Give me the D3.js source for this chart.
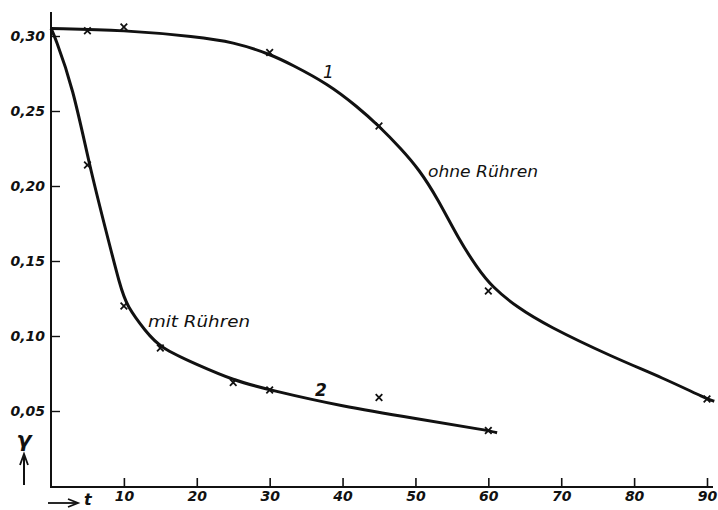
<!DOCTYPE html>
<html>
<head>
<meta charset="utf-8">
<script src="https://cdn.jsdelivr.net/npm/d3@7"></script>
<style>
  body { margin: 0; background: #fff; }
  svg text { font-family: "DejaVu Sans", "Liberation Sans", sans-serif; font-style: oblique; fill: #111; }
</style>
</head>
<body>
<svg id="chart" width="718" height="510"></svg>
<script>
// tick labels
const xTicks = [10, 20, 30, 40, 50, 60, 70, 80, 90];
const yTicks = [0.05, 0.10, 0.15, 0.20, 0.25, 0.30];

// curve 1, ohne Rühren: measured points (x marks)
const t1 = [5, 10, 30, 45, 60, 90];
const v1 = [0.3035, 0.306, 0.289, 0.240, 0.130, 0.058];
// curve 1 traced line
const lineT1 = [0, 10, 20, 25, 30, 33, 38, 42, 45, 48, 50.5, 53, 56, 58.4, 60.5, 64, 68, 77, 84, 90, 91];
const lineV1 = [0.305, 0.304, 0.2995, 0.296, 0.288, 0.281, 0.268, 0.253, 0.240, 0.225, 0.211, 0.192, 0.164, 0.146, 0.1327, 0.119, 0.107, 0.086, 0.072, 0.058, 0.0565];

// curve 2, mit Rühren: measured points
const t2 = [5, 10, 15, 25, 30, 45, 60];
const v2 = [0.214, 0.120, 0.092, 0.069, 0.064, 0.059, 0.037];
// curve 2 traced line
const lineT2 = [0, 0.5, 3, 5.3, 7.6, 9.5, 10.4, 13, 15, 20, 25, 30, 40, 50, 60, 61.2];
const lineV2 = [0.305, 0.300, 0.266, 0.213, 0.169, 0.133, 0.120, 0.103, 0.092, 0.081, 0.0705, 0.064, 0.053, 0.045, 0.037, 0.0355];

const svg = d3.select('#chart');

const x = d3.scaleLinear().domain([0, 90]).range([51, 707]);
const y = d3.scaleLinear().domain([0, 0.30]).range([486, 36]);

// axes
svg.append('line')
  .attr('x1', x(0)).attr('x2', x(0))
  .attr('y1', 12).attr('y2', 487)
  .attr('stroke', '#111').attr('stroke-width', 2);
svg.append('line')
  .attr('x1', x(0) - 1).attr('x2', 713)
  .attr('y1', 487).attr('y2', 487)
  .attr('stroke', '#111').attr('stroke-width', 2);

const xAxis = d3.axisBottom(x)
  .tickValues(xTicks)
  .tickSizeInner(-9)
  .tickSizeOuter(0)
  .tickPadding(4);
const gx = svg.append('g')
  .attr('transform', 'translate(0,487)')
  .call(xAxis);
gx.select('.domain').remove();
gx.selectAll('.tick line').attr('stroke', '#111').attr('stroke-width', 1.6);
gx.selectAll('.tick text')
  .attr('font-size', 14)
  .attr('font-weight', 'bold')
  .attr('font-family', null)
  .attr('fill', '#111');

const yAxis = d3.axisLeft(y)
  .tickValues(yTicks)
  .tickSizeInner(-9)
  .tickSizeOuter(0)
  .tickPadding(6)
  .tickFormat(d => d3.format('.2f')(d).replace('.', ','));
const gy = svg.append('g')
  .attr('transform', `translate(${x(0)},0)`)
  .call(yAxis);
gy.select('.domain').remove();
gy.selectAll('.tick line').attr('stroke', '#111').attr('stroke-width', 1.4);
gy.selectAll('.tick text')
  .attr('font-size', 14)
  .attr('font-weight', 'bold')
  .attr('font-family', null)
  .attr('fill', '#111');

// axis symbols
svg.append('line')
  .attr('x1', 48).attr('x2', 76)
  .attr('y1', 503).attr('y2', 503)
  .attr('stroke', '#111').attr('stroke-width', 1.8);
svg.append('path')
  .attr('d', 'M68,499 L78,503 L68,507')
  .attr('fill', 'none').attr('stroke', '#111').attr('stroke-width', 1.8);
svg.append('text')
  .attr('x', 84).attr('y', 505)
  .attr('font-size', 16)
  .attr('font-weight', 'bold')
  .text('t');

svg.append('line')
  .attr('x1', 24).attr('x2', 24)
  .attr('y1', 485).attr('y2', 457)
  .attr('stroke', '#111').attr('stroke-width', 2);
svg.append('path')
  .attr('d', 'M20,465 L24,454 L28,465')
  .attr('fill', 'none').attr('stroke', '#111').attr('stroke-width', 1.8);
svg.append('text')
  .attr('x', 24).attr('y', 447)
  .attr('text-anchor', 'middle')
  .attr('font-size', 22)
  .attr('font-weight', 'bold')
  .text('γ');

// curves
const line = d3.line()
  .x(d => x(d[0]))
  .y(d => y(d[1]))
  .curve(d3.curveBasis);

svg.append('path')
  .datum(d3.zip(lineT1, lineV1))
  .attr('d', line)
  .attr('fill', 'none')
  .attr('stroke', '#111')
  .attr('stroke-width', 3);

svg.append('path')
  .datum(d3.zip(lineT2, lineV2))
  .attr('d', line)
  .attr('fill', 'none')
  .attr('stroke', '#111')
  .attr('stroke-width', 3);

// x markers
const cross = d3.symbol().type(d3.symbolX).size(30);
svg.append('g')
  .selectAll('path')
  .data(d3.zip(t1, v1).concat(d3.zip(t2, v2)))
  .enter()
  .append('path')
  .attr('transform', d => `translate(${x(d[0])},${y(d[1])})`)
  .attr('d', cross)
  .attr('fill', 'none')
  .attr('stroke', '#111')
  .attr('stroke-width', 1.8);

// curve labels
svg.append('text')
  .attr('x', 428).attr('y', 177)
  .attr('font-size', 16)
  .attr('textLength', 110)
  .attr('lengthAdjust', 'spacingAndGlyphs')
  .text('ohne Rühren');
svg.append('text')
  .attr('x', 148).attr('y', 327)
  .attr('font-size', 16)
  .attr('textLength', 102)
  .attr('lengthAdjust', 'spacingAndGlyphs')
  .text('mit Rühren');
svg.append('text')
  .attr('x', 323).attr('y', 78)
  .attr('font-size', 17)
  .text('1');
svg.append('text')
  .attr('x', 315).attr('y', 396)
  .attr('font-size', 17)
  .attr('font-weight', 'bold')
  .text('2');
</script>
</body>
</html>
